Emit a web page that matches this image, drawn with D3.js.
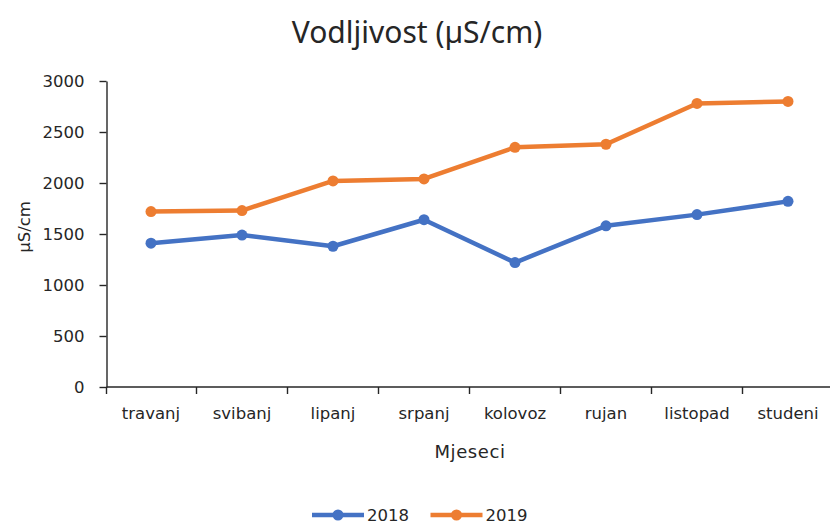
<!DOCTYPE html>
<html>
<head>
<meta charset="utf-8">
<script src="https://cdn.jsdelivr.net/npm/d3@7"></script>
<style>
  body { margin: 0; background: #fff; }
  text { font-family: "DejaVu Sans", sans-serif; fill: #262626; }
</style>
</head>
<body>
<svg id="chart" width="830" height="524"></svg>
<script>
const months = ['travanj', 'svibanj', 'lipanj', 'srpanj', 'kolovoz', 'rujan', 'listopad', 'studeni'];
const values2018 = [1410, 1490, 1380, 1640, 1220, 1580, 1690, 1820];
const values2019 = [1720, 1730, 2020, 2040, 2350, 2380, 2780, 2800];
const yTicks = [0, 500, 1000, 1500, 2000, 2500, 3000];

const series = [
  { name: '2018', values: values2018, color: '#4472C4' },
  { name: '2019', values: values2019, color: '#ED7D31' },
];

const width = 830, height = 524;
const svg = d3.select('#chart');

// category bands run past the right edge a little, as in the source
const x = d3.scaleBand().domain(months).range([105.5, 833.5]);
const y = d3.scaleLinear().domain([0, 3000]).range([387, 81]);
const axisX = 106.5;

// title
svg.append('text')
  .attr('x', 417).attr('y', 43)
  .attr('text-anchor', 'middle')
  .style('font-family', '"Noto Sans", sans-serif')
  .style('font-size', '30px')
  .text('Vodljivost (µS/cm)');

// y axis
const yAxis = svg.append('g')
  .attr('transform', `translate(${axisX},0)`)
  .call(d3.axisLeft(y).tickValues(yTicks).tickSize(7).tickPadding(15).tickSizeOuter(0).tickFormat(d3.format('d')));
yAxis.selectAll('text').style('font-size', '16.5px');

// x axis
const xAxis = svg.append('g')
  .attr('transform', `translate(0,${y(0)})`)
  .call(d3.axisBottom(x).tickSize(0).tickPadding(20).tickSizeOuter(0));
xAxis.select('.domain').attr('d', `M${axisX},0H${width}`);
xAxis.selectAll('text').style('font-size', '16.5px');
// tick marks at category boundaries
xAxis.selectAll('.bound')
  .data(months)
  .join('line')
  .attr('class', 'bound')
  .attr('x1', d => Math.max(x(d), axisX)).attr('x2', d => Math.max(x(d), axisX))
  .attr('y1', 0).attr('y2', 7);

svg.selectAll('.domain, .tick line, .bound').attr('stroke', '#262626').attr('stroke-width', 1.4);

// axis titles
svg.append('text')
  .attr('x', 470).attr('y', 458)
  .attr('text-anchor', 'middle')
  .style('font-size', '18px')
  .style('letter-spacing', '0.6px')
  .text('Mjeseci');

svg.append('text')
  .attr('transform', 'translate(30,227) rotate(-90)')
  .attr('text-anchor', 'middle')
  .style('font-size', '16.5px')
  .text('µS/cm');

// lines
const line = d3.line()
  .x((d, i) => x(months[i]) + x.bandwidth() / 2)
  .y(d => y(d));

series.forEach(s => {
  svg.append('path')
    .attr('d', line(s.values))
    .attr('fill', 'none')
    .attr('stroke', s.color)
    .attr('stroke-width', 4.5)
    .attr('stroke-linejoin', 'round');
  svg.selectAll(null)
    .data(s.values)
    .join('circle')
    .attr('cx', (d, i) => x(months[i]) + x.bandwidth() / 2)
    .attr('cy', d => y(d))
    .attr('r', 5.5)
    .attr('fill', s.color);
});

// legend
const legend = svg.append('g').attr('transform', 'translate(312,515)');
series.forEach((s, i) => {
  const g = legend.append('g').attr('transform', `translate(${i * 118.5},0)`);
  g.append('line')
    .attr('x1', 0).attr('x2', 52).attr('y1', 0).attr('y2', 0)
    .attr('stroke', s.color).attr('stroke-width', 4.5);
  g.append('circle').attr('cx', 26).attr('cy', 0).attr('r', 5.5).attr('fill', s.color);
  g.append('text')
    .attr('x', 55).attr('y', 6)
    .style('font-size', '16.5px')
    .text(s.name);
});
</script>
</body>
</html>
